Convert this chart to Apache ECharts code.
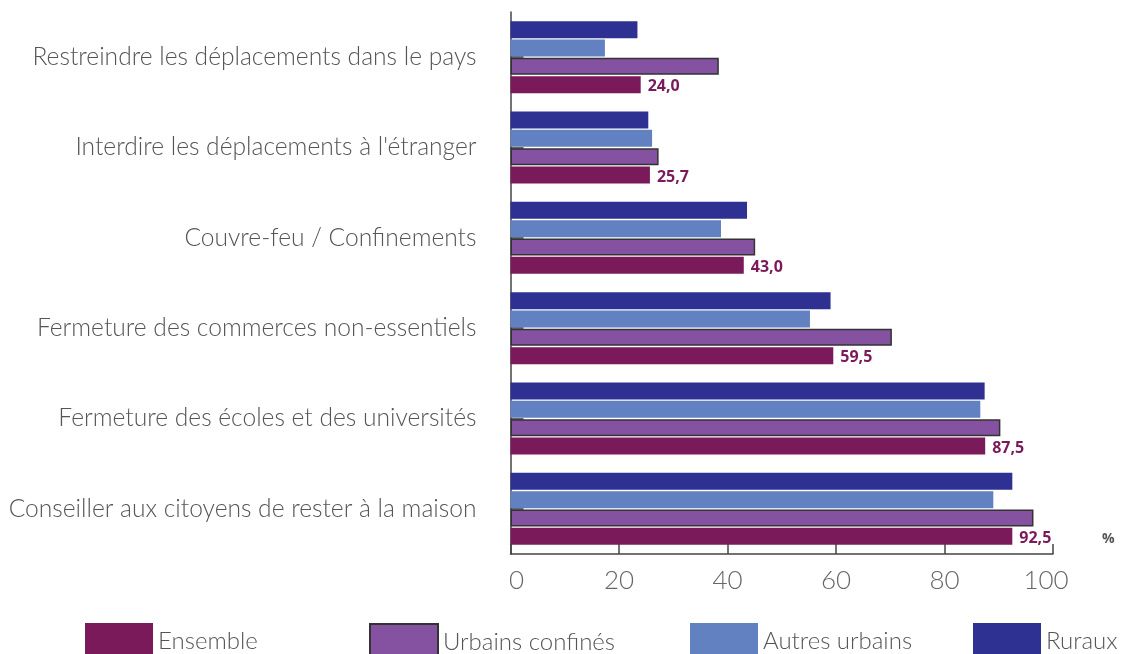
<!DOCTYPE html>
<html>
<head>
<meta charset="utf-8">
<script src="https://cdn.jsdelivr.net/npm/echarts@6/dist/echarts.min.js"></script>
<style>
html,body{margin:0;padding:0;background:#fff;}
#chart{width:1128px;height:654px;}
</style>
</head>
<body>
<div id="chart"></div>
<script>
// Categories (bottom to top)
const categories = [
  "Conseiller aux citoyens de rester à la maison",
  "Fermeture des écoles et des universités",
  "Fermeture des commerces non-essentiels",
  "Couvre-feu / Confinements",
  "Interdire les déplacements à l'étranger",
  "Restreindre les déplacements dans le pays"
];
const seriesNames = ["Ensemble", "Urbains confinés", "Autres urbains", "Ruraux"];
const ensemble = [92.5, 87.5, 59.5, 43.0, 25.7, 24.0];
const urbainsConfines = [96.4, 90.3, 70.3, 45.1, 27.3, 38.4];
const autresUrbains = [89.0, 86.6, 55.2, 38.8, 26.1, 17.4];
const ruraux = [92.5, 87.4, 59.0, 43.6, 25.4, 23.4];
const xTicks = [0, 20, 40, 60, 80, 100];

const colors = ["#7b1a5a", "#8452a0", "#6181c1", "#2e3192"];
const labelFont = "Lato, 'Open Sans', sans-serif";

const chart = echarts.init(document.getElementById('chart'), null, {renderer: 'canvas'});

const valuesList = [ensemble, urbainsConfines, autresUrbains, ruraux];
const series = seriesNames.map((name, i) => {
  const s = {
    name: name,
    type: 'bar',
    data: valuesList[i],
    barWidth: 17,
    barGap: '8%',
    itemStyle: { color: colors[i] },
    z: 3
  };
  if (i === 1) {
    s.itemStyle.borderColor = '#333';
    s.itemStyle.borderWidth = 1.5;
  }
  if (i === 0) {
    s.label = {
      show: true,
      position: 'right',
      distance: 7,
      offset: [0, 2],
      color: '#7b1a5a',
      fontWeight: 'bold',
      fontSize: 16,
      fontFamily: "'Open Sans', sans-serif",
      formatter: p => p.value.toFixed(1).replace('.', ',')
    };
  }
  return s;
}).reverse(); // first drawn series sits on top of each group

const legendLefts = [85, 369, 690, 973];
const legends = seriesNames.map((n, i) => ({
  data: [n],
  left: legendLefts[i],
  top: 623,
  padding: 0,
  itemWidth: 68,
  itemHeight: 37,
  icon: 'rect',
  textStyle: { fontSize: 24, fontWeight: 300, color: '#555', fontFamily: labelFont },
  selectedMode: false
}));

const tickStyle = { fontSize: 26, fontWeight: 300, color: '#666', fontFamily: labelFont };

chart.setOption({
  animation: false,
  backgroundColor: '#fff',
  grid: { left: 510.5, right: 75, top: 12, bottom: 100, containLabel: false },
  xAxis: {
    type: 'value',
    min: 0,
    max: 100,
    interval: 20,
    axisLine: { show: true, lineStyle: { color: '#444', width: 1.5 } },
    axisTick: { show: true, inside: true, length: 10, lineStyle: { color: '#444', width: 1.5 } },
    splitLine: { show: false },
    axisLabel: {
      margin: 14,
      fontSize: 26,
      fontWeight: 300,
      color: '#666',
      fontFamily: labelFont,
      formatter: v => {
        if (!xTicks.includes(v)) return '';
        if (v === 0) return '{first|' + v + '}';
        if (v === 100) return '{last|' + v + '}';
        return String(v);
      },
      rich: {
        first: Object.assign({ padding: [0, 0, 0, 12] }, tickStyle),
        last: Object.assign({ padding: [0, 14, 0, 0] }, tickStyle)
      }
    }
  },
  yAxis: {
    type: 'category',
    data: categories,
    axisLine: { show: true, lineStyle: { color: '#444', width: 1.5 } },
    axisTick: { show: true, inside: true, alignWithLabel: true, length: 13, lineStyle: { color: '#333', width: 1.5 } },
    axisLabel: { margin: 34, fontSize: 24.6, fontWeight: 300, color: '#555', fontFamily: labelFont }
  },
  legend: legends,
  graphic: [{
    type: 'text',
    left: 1102,
    top: 532,
    style: { text: '%', fontSize: 14, fontWeight: 'bold', fill: '#555', fontFamily: "'Open Sans', sans-serif" }
  }],
  series: series
});
</script>
</body>
</html>
